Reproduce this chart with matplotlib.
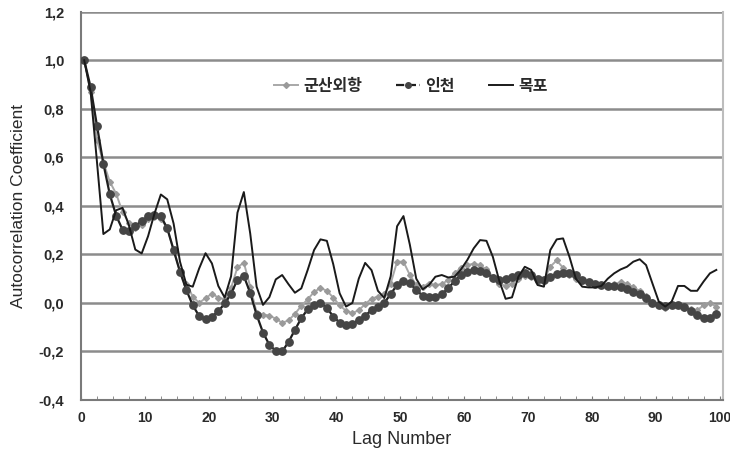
import matplotlib.pyplot as plt
from matplotlib.lines import Line2D
from matplotlib.ticker import MultipleLocator, FuncFormatter
import numpy as np

plt.rcParams['font.family'] = ['Liberation Sans', 'Noto Sans CJK KR', 'DejaVu Sans']

lags = np.arange(100)

# autocorrelation by lag for each station
gunsan = [1.0, 0.87, 0.67, 0.58, 0.50, 0.45, 0.375, 0.33, 0.31, 0.32,
          0.344, 0.355, 0.348, 0.307, 0.22, 0.13, 0.08, 0.026, 0.0, 0.02,
          0.038, 0.022, 0.015, 0.062, 0.147, 0.166, 0.067, -0.04, -0.048, -0.052,
          -0.065, -0.082, -0.072, -0.045, -0.012, 0.015, 0.045, 0.062, 0.05, 0.022,
          -0.01, -0.032, -0.042, -0.03, -0.005, 0.018, 0.026, 0.035, 0.08, 0.17,
          0.17, 0.115, 0.074, 0.067, 0.08, 0.074, 0.077, 0.095, 0.122, 0.145,
          0.156, 0.162, 0.155, 0.138, 0.108, 0.08, 0.07, 0.08, 0.10, 0.11,
          0.105, 0.088, 0.095, 0.15, 0.175, 0.145, 0.115, 0.10, 0.09, 0.085,
          0.08, 0.075, 0.075, 0.078, 0.085, 0.08, 0.065, 0.05, 0.03, 0.005,
          -0.01, -0.02, -0.01, -0.01, -0.02, -0.025, -0.03, -0.01, 0.0, -0.015]

incheon = [1.0, 0.89, 0.73, 0.574, 0.448, 0.36, 0.302, 0.298, 0.316, 0.338,
           0.357, 0.363, 0.358, 0.308, 0.218, 0.128, 0.053, -0.01, -0.054, -0.068,
           -0.056, -0.035, -0.002, 0.038, 0.096, 0.111, 0.041, -0.049, -0.122, -0.173,
           -0.198, -0.2, -0.161, -0.111, -0.063, -0.026, -0.008, 0.0, -0.02, -0.056,
           -0.081, -0.09, -0.086, -0.07, -0.053, -0.029, -0.015, 0.0, 0.037, 0.074,
           0.092, 0.081, 0.053, 0.03, 0.023, 0.023, 0.036, 0.06, 0.09, 0.115,
           0.129, 0.136, 0.133, 0.122, 0.104, 0.095, 0.097, 0.105, 0.115, 0.122,
           0.115, 0.10, 0.095, 0.108, 0.119, 0.125, 0.122, 0.115, 0.095, 0.085,
           0.08, 0.074, 0.071, 0.068, 0.064, 0.056, 0.047, 0.037, 0.019, 0.001,
           -0.008, -0.012, -0.008, -0.01, -0.018, -0.032, -0.049, -0.063, -0.063, -0.045]

mokpo = [1.0, 0.87, 0.58, 0.284, 0.303, 0.382, 0.392, 0.32, 0.22, 0.204,
         0.275, 0.368, 0.447, 0.427, 0.327, 0.17, 0.075, 0.067, 0.142, 0.205,
         0.163, 0.07, 0.022, 0.11, 0.372, 0.457, 0.286, 0.067, -0.008, 0.024,
         0.097, 0.115, 0.077, 0.042, 0.06, 0.136, 0.218, 0.262, 0.256, 0.16,
         0.04, -0.015, 0.0, 0.10, 0.165, 0.135, 0.05, 0.02, 0.11, 0.316,
         0.358, 0.24, 0.10, 0.056, 0.074, 0.108, 0.115, 0.105, 0.108, 0.138,
         0.177, 0.225, 0.259, 0.256, 0.19, 0.092, 0.017, 0.023, 0.108, 0.149,
         0.136, 0.074, 0.067, 0.218, 0.262, 0.266, 0.19, 0.10, 0.067, 0.064,
         0.064, 0.07, 0.10, 0.122, 0.138, 0.149, 0.17, 0.18, 0.156, 0.08,
         0.005, -0.015, 0.005, 0.07, 0.07, 0.05, 0.05, 0.088, 0.122, 0.136]

names = ['군산외항', '인천', '목포']

fig = plt.figure(figsize=(7.30, 4.54), dpi=100)
ax = fig.add_axes([0.111, 0.119, 0.879, 0.855])

# points sit in the middle of each lag slot
x = lags + 0.5

ax.plot(x, gunsan, color='#a8a8a8', lw=1.4, marker='D', ms=3, mfc='#9a9a9a', mec='#9a9a9a', zorder=3)
ax.plot(x, incheon, color='#1e1e1e', lw=1.6, marker='o', ms=5.3, mfc='#454545', mec='#454545', zorder=4)
ax.plot(x, mokpo, color='#1a1a1a', lw=1.4, zorder=5)

ax.set_xlim(0, 100.5)
ax.set_ylim(-0.4, 1.2)
ax.xaxis.set_major_locator(MultipleLocator(10))
ax.xaxis.set_minor_locator(MultipleLocator(2.5))
ax.yaxis.set_major_locator(MultipleLocator(0.2))
ax.yaxis.set_major_formatter(FuncFormatter(lambda v, p: ('%.1f' % v).replace('.', ',').replace('-0,0', '0,0')))

ax.grid(axis='y', color='#8c8c8c', lw=1.8)
ax.set_axisbelow(True)
ax.spines['top'].set_visible(False)
ax.spines['right'].set_color('#bdbdbd')
ax.spines['right'].set_linewidth(1.5)
ax.spines['left'].set_color('#7a7a7a')
ax.spines['bottom'].set_color('#7a7a7a')
ax.spines['left'].set_linewidth(1.5)
ax.spines['bottom'].set_linewidth(1.5)

ax.tick_params(axis='x', which='both', direction='in', length=3, color='#7a7a7a', pad=8,
               labelsize=10, labelcolor='#2a2a2a')
ax.tick_params(axis='y', length=0, pad=12, labelsize=10.5, labelcolor='#2a2a2a')
for lbl in ax.get_xticklabels() + ax.get_yticklabels():
    lbl.set_fontweight('bold')

ax.set_xlabel('Lag Number', fontsize=13, color='#2a2a2a', labelpad=4)
ax.set_ylabel('Autocorrelation Coefficient', fontsize=12.5, color='#2a2a2a', labelpad=9)

handles = [Line2D([], [], color='#a8a8a8', lw=1.4, marker='D', ms=3, mfc='#9a9a9a', mec='#9a9a9a'),
           Line2D([], [], color='#1e1e1e', lw=1.6, ls='--', marker='o', ms=4, mfc='#454545', mec='#454545'),
           Line2D([], [], color='#1a1a1a', lw=1.4)]
leg = ax.legend(handles, names, loc='center', bbox_to_anchor=(0.514, 0.81), ncol=3, frameon=False,
                handlelength=1.5, handletextpad=0.35, columnspacing=2.1,
                prop={'family': ['Noto Sans CJK KR'], 'size': 11.5, 'weight': 'bold'})
for t in leg.get_texts():
    t.set_color('#2a2a2a')

fig.savefig('out.png', dpi=100)
